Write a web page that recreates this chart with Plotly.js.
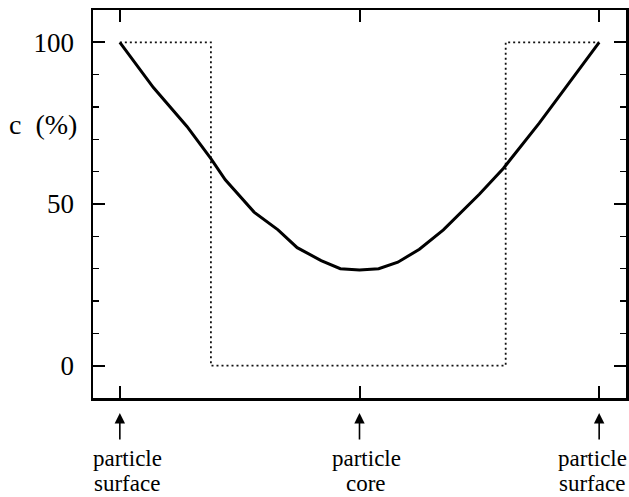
<!DOCTYPE html>
<html>
<head>
<meta charset="utf-8">
<script src="https://cdn.plot.ly/plotly-3.0.1.min.js"></script>
<style>html,body{margin:0;padding:0;background:#fff;}</style>
</head>
<body>
<div id="chart" style="width:629px;height:497px;"></div>
<script>
// Measured concentration profile (solid)
const profileX = [0, 0.07, 0.14, 0.19, 0.22, 0.28, 0.33, 0.37, 0.42, 0.46, 0.5, 0.54, 0.58, 0.625, 0.675, 0.715, 0.75, 0.80, 0.875, 0.93, 1.0];
const profileY = [100, 86, 74, 64, 57.5, 47.5, 42, 36.5, 32.5, 30, 29.6, 30, 32, 36, 42, 48, 53, 61, 75, 86, 100];
// Step profile (dotted)
const stepX = [0, 0.19, 0.19, 0.805, 0.805, 1.0];
const stepY = [100, 100, 0, 0, 100, 100];
// Position labels
const posX = [0, 0.5, 1];
const posLine1 = ["particle", "particle", "particle"];
const posLine2 = ["surface", "core", "surface"];
const yTicks = [0, 50, 100];
const yLabel = "c&nbsp; (%)";

const FONT = "Liberation Serif, Times New Roman, serif";

const traces = [
  {x: stepX, y: stepY, mode: 'lines', line: {color: '#111', width: 1.8, dash: '2px,3px'}, hoverinfo: 'skip'},
  {x: profileX, y: profileY, mode: 'lines', line: {color: '#000', width: 3}, hoverinfo: 'skip'}
];

// pixel helpers for label placement (plot area: x 93..626, y 10..398)
const L = 93, W = 533, T = 10, H = 388;
const px2paperX = p => (p - L) / W;
const px2paperY = p => (T + H - p) / H;
const textCenters = [127, 366, 592];

const annotations = [];
posX.forEach((xv, i) => {
  annotations.push({
    x: xv, xref: 'x', y: px2paperY(413), yref: 'paper',
    text: '', showarrow: true, ax: 0, ay: 28,
    arrowhead: 2, arrowsize: 1.3, arrowwidth: 1.6, arrowcolor: '#000', standoff: 0, startstandoff: 0
  });
  annotations.push({
    x: px2paperX(textCenters[i]), xref: 'paper', y: px2paperY(472), yref: 'paper',
    text: posLine1[i], showarrow: false, xanchor: 'center', yanchor: 'bottom', borderpad: 0,
    font: {family: FONT, size: 23, color: '#000'}
  });
  annotations.push({
    x: px2paperX(textCenters[i]), xref: 'paper', y: px2paperY(496.5), yref: 'paper',
    text: posLine2[i], showarrow: false, xanchor: 'center', yanchor: 'bottom', borderpad: 0,
    font: {family: FONT, size: 23, color: '#000'}
  });
});
annotations.push({
  x: px2paperX(43), xref: 'paper', y: 74.5, yref: 'y', text: yLabel, showarrow: false,
  xanchor: 'center', yanchor: 'middle', font: {family: FONT, size: 28, color: '#000'}
});

const layout = {
  width: 629, height: 497,
  margin: {l: 93, r: 3, t: 10, b: 99},
  paper_bgcolor: '#fff', plot_bgcolor: '#fff',
  showlegend: false,
  font: {family: FONT, color: '#000'},
  xaxis: {
    range: [-0.056, 1.056], tickvals: posX, showticklabels: false,
    ticks: 'inside', ticklen: 12, tickwidth: 2, tickcolor: '#000',
    showline: true, linecolor: '#000', linewidth: 2.5, mirror: 'allticks',
    showgrid: false, zeroline: false
  },
  yaxis: {
    range: [-10, 110], tickvals: yTicks,
    ticks: 'inside', ticklen: 12, tickwidth: 2, tickcolor: '#000',
    minor: {dtick: 10, tick0: 0, ticks: 'inside', ticklen: 6, tickwidth: 1.5, tickcolor: '#000', showgrid: false},
    showline: true, linecolor: '#000', linewidth: 2.5, mirror: 'allticks',
    showgrid: false, zeroline: false,
    tickfont: {family: FONT, size: 27, color: '#000'},
    ticklabelstandoff: 11
  },
  annotations: annotations
};

Plotly.newPlot('chart', traces, layout, {displayModeBar: false, staticPlot: true});
</script>
</body>
</html>
